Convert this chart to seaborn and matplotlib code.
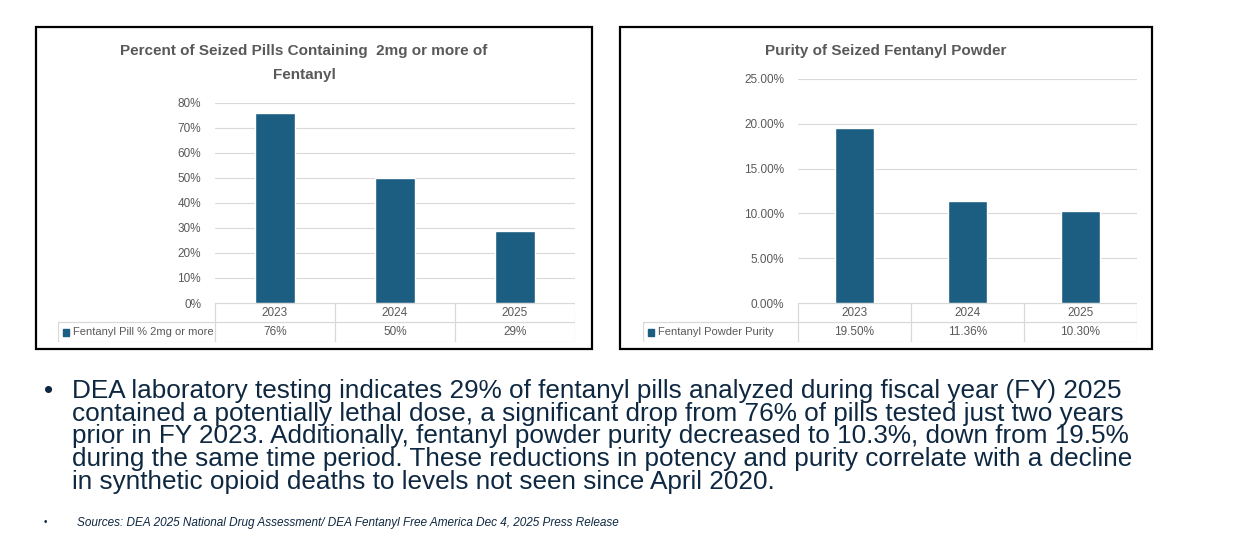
import matplotlib
matplotlib.use("Agg")
import matplotlib.pyplot as plt
import seaborn as sns
import pandas as pd
from matplotlib.patches import Rectangle

# === Data ===
years = ["2023", "2024", "2025"]
pill_pct = [76, 50, 29]
pill_labels = ["76%", "50%", "29%"]
powder_pct = [19.50, 11.36, 10.30]
powder_labels = ["19.50%", "11.36%", "10.30%"]

BAR = "#1b5e82"
GRID = "#d9d9d9"
TXT = "#595959"

sns.set_theme(style="white")
plt.rcParams["font.family"] = ["Liberation Sans", "DejaVu Sans"]

W, H = 1253, 549
fig = plt.figure(figsize=(W / 100, H / 100), dpi=100)
fig.patch.set_facecolor("white")


def px(x0, y0, x1, y1):
    return [x0 / W, 1 - y1 / H, (x1 - x0) / W, (y1 - y0) / H]


def panel(box, plot, lab_x, title, vals, labels, series, yticks, ylabels):
    # outer frame
    fig.patches.append(Rectangle((box[0] / W, 1 - box[3] / H), (box[2] - box[0]) / W,
                                 (box[3] - box[1]) / H, transform=fig.transFigure,
                                 fill=False, ec="black", lw=1.6))
    ax = fig.add_axes(px(*plot))
    df = pd.DataFrame({"year": years, "v": vals})
    sns.barplot(data=df, x="year", y="v", color=BAR, width=0.34, saturation=1, ax=ax)
    ax.set_ylim(yticks[0], yticks[-1])
    ax.set_yticks(yticks)
    ax.set_yticklabels(ylabels, fontsize=8.5, color=TXT)
    ax.set_xticks([])
    ax.set_xlabel("")
    ax.set_ylabel("")
    ax.grid(axis="y", color=GRID, lw=0.8)
    ax.set_axisbelow(True)
    ax.tick_params(axis="y", length=0, pad=10)
    for s in ax.spines.values():
        s.set_visible(False)
    # data table under the axis
    top, mid, bot = plot[3], plot[3] + 19, plot[3] + 39
    tax = fig.add_axes(px(lab_x, top, plot[2], bot))
    tax.set_xlim(lab_x, plot[2])
    tax.set_ylim(bot, top)
    tax.axis("off")
    cw = (plot[2] - plot[0]) / 3
    kw = dict(color=GRID, lw=0.9)
    tax.plot([plot[0], plot[2]], [top, top], **kw)
    tax.plot([lab_x, plot[2]], [mid, mid], **kw)
    tax.plot([lab_x, plot[2]], [bot, bot], **kw)
    tax.plot([lab_x, lab_x], [mid, bot], **kw)
    for i in range(4):
        xx = plot[0] + i * cw
        tax.plot([xx, xx], [top, bot], **kw)
    for i, (y, l) in enumerate(zip(years, labels)):
        cx = plot[0] + (i + 0.5) * cw
        tax.text(cx, (top + mid) / 2, y, ha="center", va="center", fontsize=8.5, color=TXT)
        tax.text(cx, (mid + bot) / 2, l, ha="center", va="center", fontsize=8.5, color=TXT)
    tax.add_patch(Rectangle((lab_x + 5, (mid + bot) / 2 - 3.5), 6, 7, color=BAR))
    tax.text(lab_x + 15, (mid + bot) / 2, series, ha="left", va="center", fontsize=8, color=TXT)
    fig.text(((box[0] + box[2]) / 2 + title[1]) / W, 1 - title[2] / H, title[0], ha="center",
             va="top", fontsize=11, weight="bold", color=TXT, linespacing=1.9)


panel((36, 27, 592, 349), (215, 103, 575, 303), 58,
      ("Percent of Seized Pills Containing  2mg or more of\nFentanyl", -10, 44),
      pill_pct, pill_labels, "Fentanyl Pill % 2mg or more",
      [0, 10, 20, 30, 40, 50, 60, 70, 80], [f"{t}%" for t in range(0, 90, 10)])
panel((620, 27, 1152, 349), (798, 79, 1137, 303), 643,
      ("Purity of Seized Fentanyl Powder", 0, 44),
      powder_pct, powder_labels, "Fentanyl Powder Purity",
      [0, 5, 10, 15, 20, 25], [f"{t:.2f}%" for t in [0, 5, 10, 15, 20, 25]])

NAVY = "#0e2841"
body = ("DEA laboratory testing indicates 29% of fentanyl pills analyzed during fiscal year (FY) 2025\n"
        "contained a potentially lethal dose, a significant drop from 76% of pills tested just two years\n"
        "prior in FY 2023. Additionally, fentanyl powder purity decreased to 10.3%, down from 19.5%\n"
        "during the same time period. These reductions in potency and purity correlate with a decline\n"
        "in synthetic opioid deaths to levels not seen since April 2020.")
fig.text(44 / W, 1 - 379 / H, "\u2022", fontsize=19, color=NAVY, va="top")
fig.text(72 / W, 1 - 379 / H, body, fontsize=18.8, color=NAVY, va="top", linespacing=0.93)
fig.text(44 / W, 1 - 517 / H, "\u2022", fontsize=7, color=NAVY, va="top")
fig.text(77 / W, 1 - 517 / H,
         "Sources: DEA 2025 National Drug Assessment/ DEA Fentanyl Free America Dec 4, 2025 Press Release",
         fontsize=8.5, style="italic", color=NAVY, va="top")

fig.savefig("out.png", dpi=100)
